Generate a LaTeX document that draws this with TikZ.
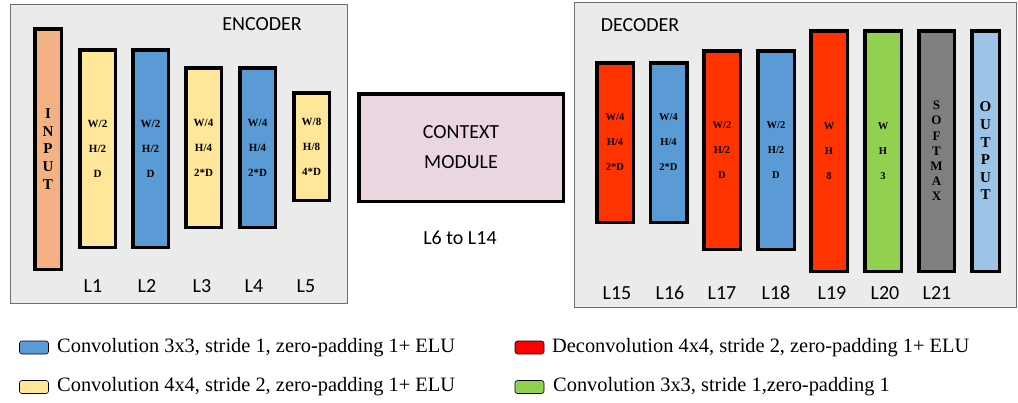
\documentclass[tikz,border=0pt]{standalone}
\usepackage{fontspec}
\setmainfont{Liberation Serif}
\newfontfamily\calfont{Carlito}
\definecolor{cOrange}{HTML}{F4B183}
\definecolor{cYellow}{HTML}{FFE699}
\definecolor{cBlue}{HTML}{5B9BD5}
\definecolor{cRed}{HTML}{FF3300}
\definecolor{cGreen}{HTML}{92D050}
\definecolor{cGray}{HTML}{7F7F7F}
\definecolor{cLight}{HTML}{9DC3E6}
\definecolor{cPink}{HTML}{EAD6E1}
\definecolor{cPanel}{HTML}{EBEBEB}
\definecolor{cPanelEdge}{HTML}{6E6E6E}
\begin{document}
\begin{tikzpicture}[x=1pt,y=-1pt,
  panel/.style={draw=cPanelEdge, fill=cPanel, line width=0.9pt},
  bar/.style={draw=black, line width=3.5pt, inner sep=0pt, align=center,
    font=\bfseries\fontsize{11}{25}\selectfont},
  dbar/.style={bar, font=\bfseries\fontsize{10.5}{25}\selectfont},
  vword/.style={bar, font=\bfseries\fontsize{15}{17.6}\selectfont},
  lab/.style={font=\calfont\fontsize{20}{24}\selectfont},
  swatch/.style={draw=black, line width=0.6pt, rounded corners=2.5pt, minimum width=29pt, minimum height=13pt, inner sep=0pt},
  legtext/.style={anchor=west, inner sep=0pt, font=\fontsize{20.4}{24}\selectfont}]
\useasboundingbox (0,0) rectangle (1018,402);
% panels
\draw[panel] (10,4) rectangle (347,303);
\draw[panel] (574,2) rectangle (1016,307);
\node[lab] (enc) at (262,24) {ENCODER};
\node[lab] (dec) at (640,25) {DECODER};
% encoder bars
\node[vword, fill=cOrange, minimum width=26.5pt, minimum height=240.5pt] (input) at (48,149) {I\\N\\P\\U\\T};
\node[bar, fill=cYellow, minimum width=35.5pt, minimum height=197.5pt] (L1) at (97.5,148.5) {W/2\\H/2\\D};
\node[bar, fill=cBlue, minimum width=35.5pt, minimum height=197.5pt] (L2) at (150.5,148.5) {W/2\\H/2\\D};
\node[bar, fill=cYellow, minimum width=35.5pt, minimum height=159.5pt] (L3) at (203.5,147.5) {W/4\\H/4\\2*D};
\node[bar, fill=cBlue, minimum width=35.5pt, minimum height=159.5pt] (L4) at (257.5,147.5) {W/4\\H/4\\2*D};
\node[bar, fill=cYellow, minimum width=35.5pt, minimum height=107.5pt] (L5) at (311.5,146.5) {W/8\\H/8\\4*D};
\node[lab] (t1) at (93,286) {L1};
\node[lab] (t2) at (147,286) {L2};
\node[lab] (t3) at (202,286) {L3};
\node[lab] (t4) at (254,286) {L4};
\node[lab] (t5) at (306,286) {L5};
% context
\node[draw=black, line width=3.5pt, fill=cPink, minimum width=204.5pt, minimum height=107.5pt, align=center,
  font=\calfont\fontsize{20}{30}\selectfont] (ctx) at (461,147.5) {CONTEXT\\MODULE};
\node[lab] (ctxl) at (460,238) {L6 to L14};
% decoder bars
\node[dbar, fill=cRed, minimum width=36.5pt, minimum height=159.5pt] (L15) at (615,142.5) {W/4\\H/4\\2*D};
\node[dbar, fill=cBlue, minimum width=36.5pt, minimum height=159.5pt] (L16) at (668.5,142.5) {W/4\\H/4\\2*D};
\node[dbar, fill=cRed, minimum width=36.5pt, minimum height=198.5pt] (L17) at (722,150) {W/2\\H/2\\D};
\node[dbar, fill=cBlue, minimum width=36.5pt, minimum height=198.5pt] (L18) at (776,150) {W/2\\H/2\\D};
\node[dbar, fill=cRed, minimum width=36.5pt, minimum height=240.5pt] (L19) at (829,151) {W\\H\\8};
\node[dbar, fill=cGreen, minimum width=36.5pt, minimum height=240.5pt] (L20) at (883,151) {W\\H\\3};
\node[bar, fill=cGray, minimum width=35.5pt, minimum height=240.5pt, font=\bfseries\fontsize{13}{15.2}\selectfont] (L21) at (936.5,151) {S\\O\\F\\T\\M\\A\\X};
\node[vword, fill=cLight, minimum width=27.5pt, minimum height=240.5pt] (output) at (985.5,151) {O\\U\\T\\P\\U\\T};
\node[lab] (t15) at (617,293) {L15};
\node[lab] (t16) at (670,293) {L16};
\node[lab] (t17) at (722,293) {L17};
\node[lab] (t18) at (776,293) {L18};
\node[lab] (t19) at (832,293) {L19};
\node[lab] (t20) at (885,293) {L20};
\node[lab] (t21) at (937,293) {L21};
% legend
\node[swatch, fill=cBlue] (sb) at (34,347.5) {};
\node[legtext] (lb) at (57,348) {Convolution 3x3, stride 1, zero-padding 1+ ELU};
\node[swatch, fill=cYellow] (sy) at (34,387) {};
\node[legtext] (ly) at (57,387) {Convolution 4x4, stride 2, zero-padding 1+ ELU};
\node[swatch, fill=red] (sr) at (529.5,347.5) {};
\node[legtext] (lr) at (552,348) {Deconvolution 4x4, stride 2, zero-padding 1+ ELU};
\node[swatch, fill=cGreen] (sg) at (529.5,387) {};
\node[legtext] (lg) at (553,387) {Convolution 3x3, stride 1,zero-padding 1};
\end{tikzpicture}
\end{document}
